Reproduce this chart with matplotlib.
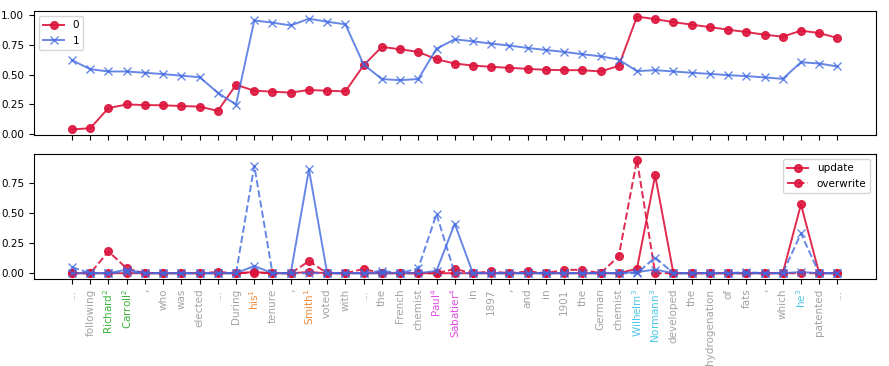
import numpy as np
from matplotlib import pyplot as plt

tokens = ["...", "following", "Richard$^2$", "Carroll$^2$", ",", "who", "was", "elected", "...",
          "During", "his$^1$", "tenure", ",", "Smith$^1$", "voted", "with", "...", "the", "French",
          "chemist", "Paul$^4$", "Sabatier$^4$", "in", "1897", ",", "and", "in", "1901", "the",
          "German", "chemist", "Wilhelm$^3$", "Normann$^3$", "developed", "the", "hydrogenation",
          "of", "fats", ",", "which", "he$^3$", "patented", "..."]

# entity id for each token (0 = none)
token_entity = [0, 0, 2, 2, 0, 0, 0, 0, 0,
                0, 1, 0, 0, 1, 0, 0, 0, 0, 0,
                0, 4, 4, 0, 0, 0, 0, 0, 0, 0,
                0, 0, 3, 3, 0, 0, 0,
                0, 0, 0, 0, 3, 0, 0]
entity_colors = {0: "#a3a3a3", 1: "#f08a3c", 2: "#3cb43c", 3: "#4ec6e6", 4: "#e24ee2"}

# top panel: state probabilities
state0 = [0.04, 0.05, 0.22, 0.25, 0.245, 0.243, 0.237, 0.232, 0.196,
          0.416, 0.366, 0.358, 0.35, 0.372, 0.366, 0.36, 0.58, 0.735, 0.715,
          0.693, 0.631, 0.595, 0.578, 0.567, 0.559, 0.55, 0.542, 0.539, 0.539,
          0.528, 0.575, 0.99, 0.969, 0.944, 0.922, 0.902,
          0.88, 0.86, 0.838, 0.821, 0.872, 0.852, 0.81]
state1 = [0.623, 0.547, 0.528, 0.528, 0.517, 0.506, 0.492, 0.48, 0.349,
          0.249, 0.958, 0.939, 0.916, 0.972, 0.947, 0.925, 0.587, 0.464, 0.455,
          0.464, 0.72, 0.799, 0.782, 0.763, 0.746, 0.726, 0.709, 0.693, 0.673,
          0.656, 0.628, 0.531, 0.539, 0.528, 0.517, 0.508,
          0.497, 0.489, 0.478, 0.466, 0.606, 0.595, 0.57]

# bottom panel: update / overwrite gates
update0 = [0, 0, 0, 0, 0, 0, 0, 0, 0,
           0, 0.01, 0, 0, 0.01, 0, 0, 0, 0, 0,
           0, 0, 0, 0, 0, 0, 0, 0, 0, 0,
           0, 0, 0.037, 0.81, 0, 0, 0,
           0, 0, 0, 0, 0.57, 0, 0]
overwrite0 = [0, 0, 0.18, 0.04, 0, 0, 0, 0, 0.01,
              0, 0.005, 0, 0, 0.10, 0, 0, 0.035, 0, 0,
              0, 0, 0.035, 0, 0.015, 0, 0.015, 0, 0.028, 0.028,
              0, 0.14, 0.94, 0, 0, 0, 0,
              0, 0, 0, 0, 0, 0, 0]
update1 = [0, 0, 0, 0.03, 0, 0, 0, 0, 0,
           0, 0.06, 0, 0, 0.86, 0, 0, 0, 0, 0,
           0, 0.02, 0.41, 0, 0, 0, 0, 0, 0, 0,
           0, 0, 0.01, 0.03, 0, 0, 0,
           0, 0, 0, 0, 0.01, 0, 0]
overwrite1 = [0.05, 0, 0, 0.01, 0, 0, 0, 0, 0,
              0, 0.89, 0, 0, 0, 0, 0, 0, 0.02, 0,
              0.04, 0.49, 0, 0, 0, 0, 0, 0, 0, 0,
              0, 0, 0, 0.13, 0, 0, 0,
              0, 0.01, 0, 0, 0.33, 0, 0]

red = "crimson"
blue = "royalblue"

plt.rcParams["font.size"] = 7.5
fig = plt.figure(figsize=(8.89, 3.66), dpi=100)
ax1 = fig.add_axes([0.038, 0.631, 0.947, 0.339])
ax2 = fig.add_axes([0.038, 0.238, 0.947, 0.341], sharex=ax1)

x = np.arange(len(tokens))

ax1.plot(x, state0, "-o", color=red, ms=5.5, lw=1.4, label="0", alpha=0.9)
ax1.plot(x, state1, "-x", color=blue, ms=5.5, lw=1.4, label="1", alpha=0.8)
ax1.legend(loc="upper left")
ax1.tick_params(labelbottom=False)

ax2.plot(x, update0, "-o", color=red, ms=5.5, lw=1.4, label="update", alpha=0.9)
ax2.plot(x, overwrite0, "--o", color=red, ms=5.5, lw=1.4, label="overwrite", alpha=0.9)
ax2.plot(x, update1, "-x", color=blue, ms=5.5, lw=1.4, alpha=0.8)
ax2.plot(x, overwrite1, "--x", color=blue, ms=5.5, lw=1.4, alpha=0.8)
ax2.legend(loc="upper right")

ax2.set_xticks(x)
ax2.set_xticklabels(tokens, rotation=90)
for lab, ent in zip(ax2.get_xticklabels(), token_entity):
    lab.set_color(entity_colors[ent])

ax1.set_yticks([0.0, 0.25, 0.5, 0.75, 1.0])
ax2.set_yticks([0.0, 0.25, 0.5, 0.75])

plt.savefig("out.png")
